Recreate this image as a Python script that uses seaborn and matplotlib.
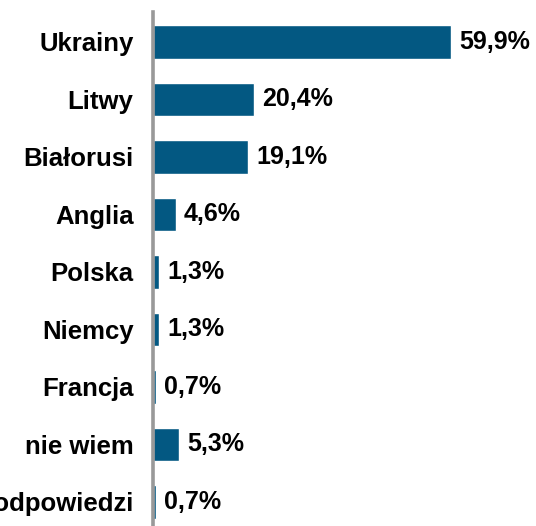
import matplotlib
matplotlib.use("Agg")
import matplotlib.pyplot as plt
import seaborn as sns
import pandas as pd

categories = ["Ukrainy", "Litwy", "Białorusi", "Anglia", "Polska", "Niemcy",
              "Francja", "nie wiem", "brak odpowiedzi"]
values = [59.9, 20.4, 19.1, 4.6, 1.3, 1.3, 0.7, 5.3, 0.7]
value_labels = ["59,9%", "20,4%", "19,1%", "4,6%", "1,3%", "1,3%", "0,7%", "5,3%", "0,7%"]

df = pd.DataFrame({"cat": categories, "val": values})

sns.set_style("white")
plt.rcParams["font.family"] = ["Liberation Sans", "DejaVu Sans"]

fig = plt.figure(figsize=(5.36, 5.26), dpi=100)
ax = fig.add_axes([153 / 536, 0.0, 1 - 153 / 536, 1 - 12 / 526])

sns.barplot(data=df, x="val", y="cat", orient="h", color="#035882",
            saturation=1, width=0.58, ax=ax)

ax.set_xlim(0, 77.0)
ax.set_ylim(8.42, -0.52)
for s in ["top", "right", "bottom"]:
    ax.spines[s].set_visible(False)
ax.spines["left"].set_color("#999999")
ax.spines["left"].set_linewidth(2.6)
ax.spines["left"].set_zorder(5)
ax.set_xticks([])
ax.set_xlabel("")
ax.set_ylabel("")
ax.tick_params(axis="y", length=0, pad=14)
for lab in ax.get_yticklabels():
    lab.set_fontweight("bold")
    lab.set_fontsize(18.5)
    lab.set_color("#000000")

for i, (v, t) in enumerate(zip(values, value_labels)):
    ax.text(v + 1.6, i, t, va="center", ha="left", fontsize=18,
            fontweight="bold", color="#000000")

fig.savefig("out.png", dpi=100)
